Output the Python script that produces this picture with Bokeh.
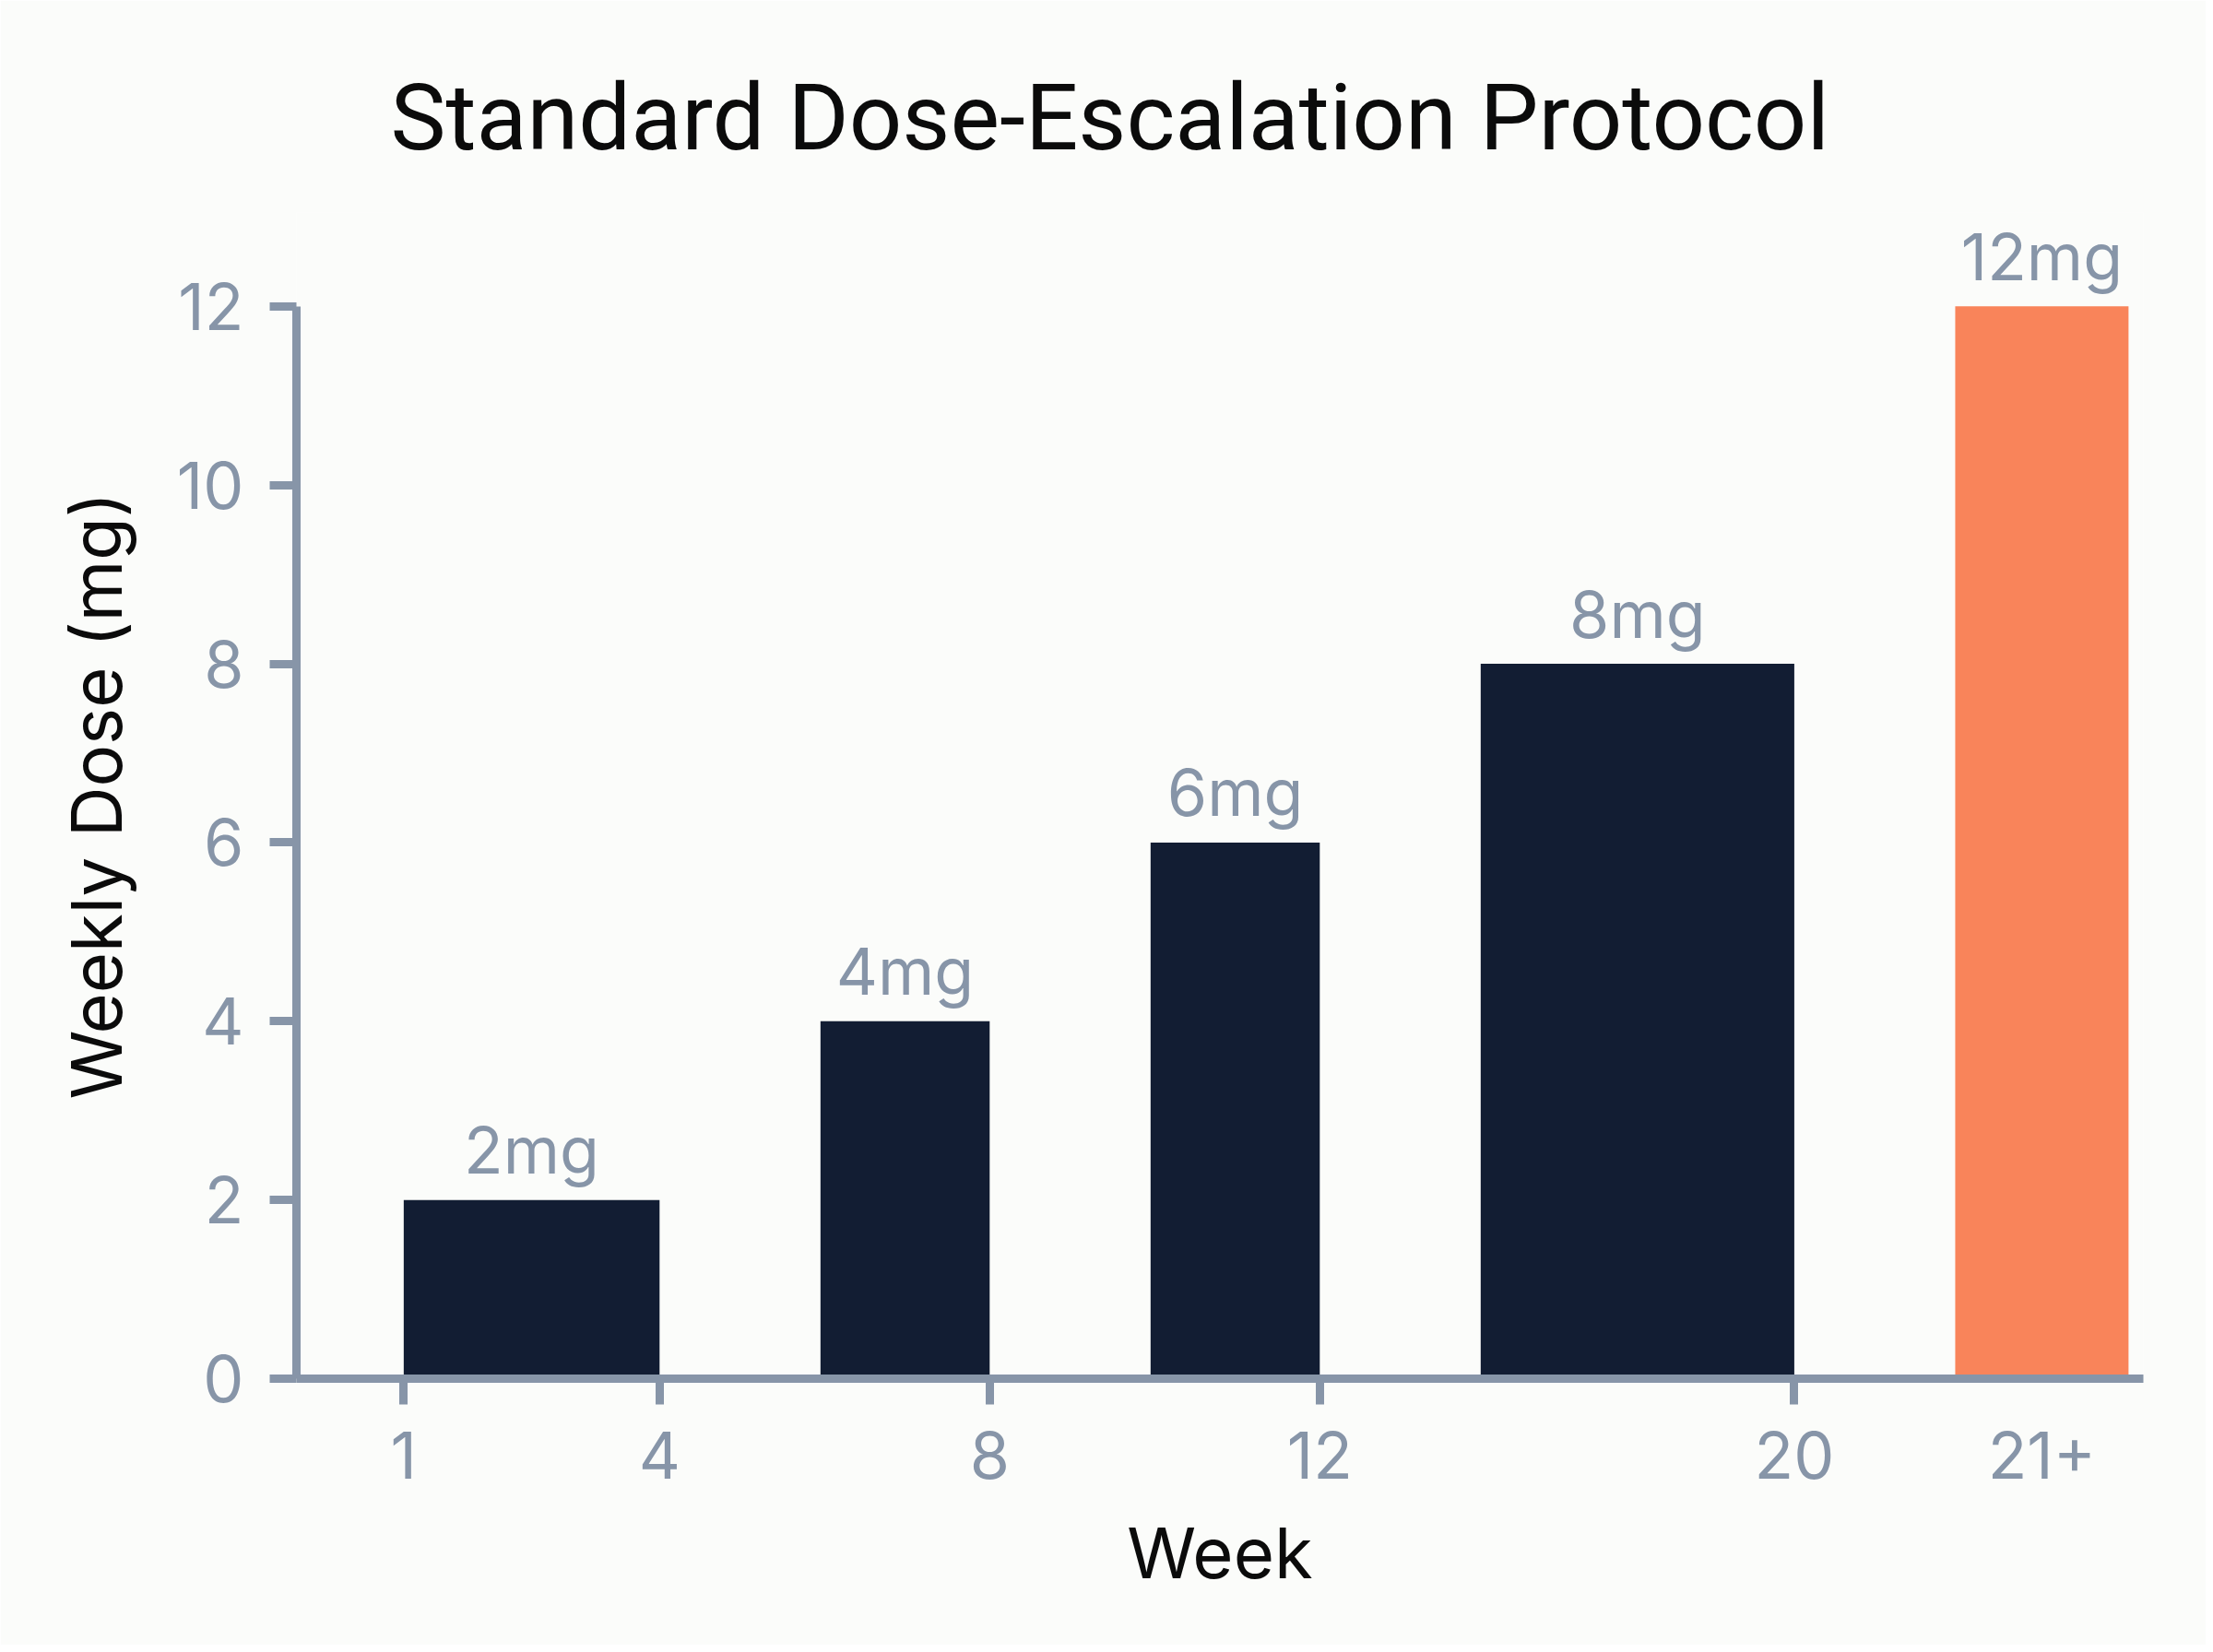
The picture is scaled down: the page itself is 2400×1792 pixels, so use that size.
from bokeh.core.properties import value
from bokeh.embed import file_html
from bokeh.models import ColumnDataSource, FixedTicker, Range1d
from bokeh.plotting import figure
from bokeh.resources import INLINE

# Phases of the protocol (x in week-axis units)
week_labels = ["1", "4", "8", "12", "20", "21+"]
week_pos = [0.9, 4, 8, 12, 17.75, 20.75]
week_marks = [0.9, 4, 8, 12, 17.75]  # "21+" has no tick mark

bar_start = [0.9, 5.95, 9.95, 13.95, 19.7]
bar_end = [4, 8, 12, 17.75, 21.8]
doses = [2, 4, 6, 8, 12]
dose_labels = ["2mg", "4mg", "6mg", "8mg", "12mg"]
bar_colors = ["#121d33", "#121d33", "#121d33", "#121d33", "#f9845a"]

FONT = "Inter"
GRAY = "#8795a8"
BG = "#fbfcfa"

src = ColumnDataSource(dict(
    left=bar_start,
    right=bar_end,
    mid=[(a + b) / 2 for a, b in zip(bar_start, bar_end)],
    dose=doses,
    label=dose_labels,
    color=bar_colors,
))

p = figure(
    width=2392,
    height=1784,
    x_range=Range1d(-0.40, 21.98),
    y_range=Range1d(0, 13.05),
    min_border_left=321,
    min_border_right=68,
    min_border_top=230,
    min_border_bottom=289,
    output_backend="svg",
    toolbar_location=None,
    title="Standard Dose-Escalation Protocol",
)
p.background_fill_color = BG
p.border_fill_color = BG
p.outline_line_color = None
p.grid.visible = False

p.title.text_font = "Roboto"
p.title.text_font_size = "101px"
p.title.text_font_style = "normal"
p.title.text_color = "#0b0b0b"
p.title.align = "left"
p.title.offset = 102
p.title.standoff = 88

p.quad(left="left", right="right", bottom=0, top="dose", color="color",
       line_color=None, source=src)
p.text(x="mid", y="dose", text="label", source=src, text_align="center",
       text_baseline="alphabetic", y_offset=-54, text_font=value(FONT),
       text_font_size="70px", text_color=GRAY)

# x axis
xa = p.xaxis[0]
xa.ticker = FixedTicker(ticks=week_pos, minor_ticks=week_marks)
xa.major_label_overrides = {pos: lab for pos, lab in zip(week_pos, week_labels)}
xa.major_tick_line_color = None
xa.major_tick_out = 28
xa.major_tick_in = 0
xa.minor_tick_line_color = GRAY
xa.minor_tick_line_width = 9
xa.minor_tick_out = 28
xa.minor_tick_in = 0
xa.axis_line_color = GRAY
xa.axis_line_width = 9
xa.major_label_standoff = 29
xa.major_label_text_font = FONT
xa.major_label_text_font_size = "70px"
xa.major_label_text_color = GRAY
xa.axis_label = "Week"
xa.axis_label_text_font = FONT
xa.axis_label_text_font_size = "76px"
xa.axis_label_text_font_style = "normal"
xa.axis_label_text_color = "#0b0b0b"
xa.axis_label_standoff = 31

# y axis
ya = p.yaxis[0]
ya.bounds = (0, 12)
ya.ticker = FixedTicker(ticks=[0, 2, 4, 6, 8, 10, 12])
ya.minor_tick_line_color = None
ya.major_tick_line_color = GRAY
ya.major_tick_line_width = 9
ya.major_tick_out = 29
ya.major_tick_in = 0
ya.axis_line_color = GRAY
ya.axis_line_width = 9
ya.major_label_standoff = 28
ya.major_label_text_font = FONT
ya.major_label_text_font_size = "70px"
ya.major_label_text_color = GRAY
ya.axis_label = "Weekly Dose (mg)"
ya.axis_label_text_font = FONT
ya.axis_label_text_font_size = "76px"
ya.axis_label_text_font_style = "normal"
ya.axis_label_text_color = "#0b0b0b"
ya.axis_label_standoff = 39

open("out.html", "w").write(file_html(p, INLINE))
